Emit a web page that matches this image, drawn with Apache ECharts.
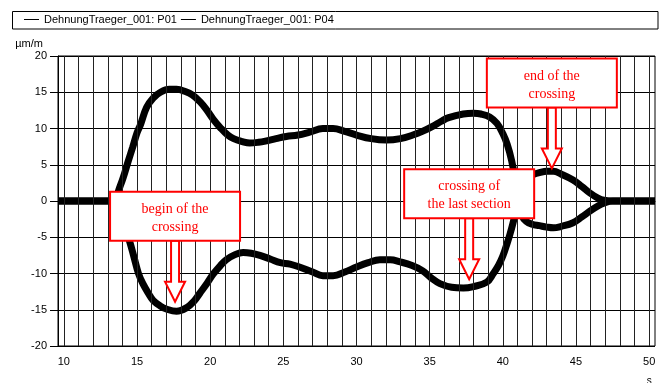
<!DOCTYPE html>
<html>
<head>
    <meta charset="utf-8">
    <title>DehnungTraeger_001</title>
    <style>
        body {
            margin: 0;
            padding: 0;
            background-color: #fff;
        }
        #chart {
            width: 672px;
            height: 383px;
        }
    </style>
</head>
<body>
    <div id="chart"></div>
    <script src="https://cdn.jsdelivr.net/npm/echarts@6/dist/echarts.min.js"></script>
    <script>
        // P01 - upper curve (s / µm/m)
        var timeP01 = [9.6, 11, 12, 13, 13.5, 13.75, 14.05, 14.4, 14.7, 15.0, 15.25, 15.65, 16.1, 16.6, 17.2, 17.7,
            18.3, 18.8, 19.3, 19.75, 20.2, 20.7, 21.2, 21.6, 22.2, 22.7, 23.3, 23.85, 24.5, 25.2, 26.0, 26.8,
            27.7, 28.4, 29.2, 30.0, 31.0, 32.05, 33.0, 33.85, 34.5, 35.2, 35.8, 36.3, 37.3, 38.0, 38.5, 39.1,
            39.6, 40.0, 40.3, 40.6, 40.85, 41.05, 41.3, 41.6, 42.0, 42.5, 43.0, 43.45, 44.0, 44.8, 45.4, 45.95,
            46.5, 46.9, 47.5, 48.5, 49.5, 50.4];
        var strainP01 = [0, 0, 0, 0, 0.1, 1.5, 3.2, 5.5, 7.4, 9.4, 10.6, 12.9, 14.2, 15.0, 15.4, 15.4,
            15.1, 14.6, 13.7, 12.6, 11.3, 10.1, 9.1, 8.6, 8.2, 8.0, 8.1, 8.3, 8.6, 8.9, 9.1, 9.5,
            10.0, 10.0, 9.6, 9.1, 8.6, 8.4, 8.6, 9.1, 9.6, 10.3, 11.0, 11.5, 12.0, 12.1, 12.0, 11.6,
            10.7, 9.3, 7.8, 5.6, 2.8, 0.2, -2.0, -2.8, -3.2, -3.4, -3.6, -3.7, -3.5, -3.0, -2.2, -1.4,
            -0.7, -0.3, 0, 0, 0, 0];

        // P04 - lower curve
        var timeP04 = [9.6, 11, 12, 13, 13.5, 13.75, 14.1, 14.5, 14.8, 15.1, 15.4, 15.8, 16.1, 16.6, 17.0, 17.7,
            18.4, 18.9, 19.3, 19.8, 20.2, 20.7, 21.1, 21.7, 22.25, 22.8, 23.4, 24.1, 24.8, 25.45, 26.1, 27.0,
            27.7, 28.4, 29.2, 30.0, 30.8, 31.6, 32.3, 33.0, 33.8, 34.5, 35.1, 35.7, 36.5, 37.3, 38.0, 38.9,
            39.35, 39.7, 40.0, 40.3, 40.5, 40.75, 40.95, 41.2, 41.6, 42.0, 42.5, 43.0, 43.45, 44.0, 44.8, 45.4,
            45.95, 46.5, 46.9, 47.5, 48.5, 49.5, 50.4];
        var strainP04 = [0, 0, 0, 0, -0.1, -1.2, -3.2, -5.6, -7.8, -10.0, -11.4, -12.8, -13.7, -14.5, -14.9, -15.2,
            -14.7, -13.8, -12.7, -11.3, -10.1, -8.9, -8.1, -7.4, -7.1, -7.2, -7.5, -8.0, -8.5, -8.7, -9.1, -9.8,
            -10.3, -10.3, -9.8, -9.1, -8.5, -8.1, -8.1, -8.4, -8.9, -9.6, -10.6, -11.4, -11.9, -12.0, -11.8, -11.2,
            -10.0, -8.9, -7.6, -5.8, -4.5, -2.6, -1.0, 1.1, 3.3, 3.6, 3.9, 4.1, 4.1, 3.7, 2.9, 2.0,
            1.1, 0.4, 0.1, 0, 0, 0, 0];

        var seriesNames = ['DehnungTraeger_001: P01', 'DehnungTraeger_001: P04'];
        var secondLabels = [10, 15, 20, 25, 30, 35, 40, 45, 50];
        var secondLines = [10, 11, 12, 13, 14, 15, 16, 17, 18, 19, 20, 21, 22, 23, 24, 25, 26, 27, 28, 29, 30,
            31, 32, 33, 34, 35, 36, 37, 38, 39, 40, 41, 42, 43, 44, 45, 46, 47, 48, 49, 50];

        // callouts: text and the point (s, µm/m) the arrow tip sits on
        var notes = [
            { text: 'begin of the\ncrossing', at: [17.6, -13.9] },
            { text: 'end of the\ncrossing', at: [43.35, 4.5] },
            { text: 'crossing of\nthe last section', at: [37.7, -10.8] }
        ];

        function zip(xs, ys) {
            var res = [];
            for (var i = 0; i < xs.length; i++) {
                res.push([xs[i], ys[i]]);
            }
            return res;
        }

        var chart = echarts.init(document.getElementById('chart'));
        var font = 'Liberation Sans, Arial, sans-serif';

        var curveStyle = {
            color: '#000',
            width: 7
        };

        var option = {
            animation: false,
            legend: {
                data: seriesNames,
                left: 24,
                top: 14,
                padding: 0,
                icon: 'rect',
                itemWidth: 15,
                itemHeight: 1,
                itemGap: 4,
                selectedMode: false,
                itemStyle: { color: '#000' },
                textStyle: { fontFamily: font, fontSize: 11, color: '#000' }
            },
            grid: {
                left: 58,
                right: 17,
                top: 56,
                bottom: 37,
                show: true,
                borderColor: '#000',
                borderWidth: 1
            },
            xAxis: {
                type: 'value',
                min: 9.6,
                max: 50.4,
                axisLine: { show: true, lineStyle: { color: '#000' } },
                axisTick: { show: true, length: 7, customValues: secondLabels, lineStyle: { color: '#000' } },
                axisLabel: {
                    customValues: secondLabels,
                    margin: 10,
                    color: '#000',
                    fontFamily: font,
                    fontSize: 11
                },
                splitLine: { show: false }
            },
            yAxis: {
                type: 'value',
                min: -20,
                max: 20,
                interval: 5,
                name: 'µm/m',
                nameLocation: 'end',
                nameGap: 7,
                nameTextStyle: {
                    fontFamily: font,
                    fontSize: 11,
                    color: '#000',
                    align: 'right',
                    padding: [0, 15, 0, 0]
                },
                axisLine: { show: true, lineStyle: { color: '#000' } },
                axisTick: { show: true, length: 8, lineStyle: { color: '#000' } },
                axisLabel: { margin: 11, color: '#000', fontFamily: font, fontSize: 11 },
                splitLine: { show: true, lineStyle: { color: '#000', width: 1 } }
            },
            series: [{
                name: 'seconds grid',
                type: 'line',
                data: [],
                z: 1,
                silent: true,
                markLine: {
                    silent: true,
                    symbol: ['none', 'none'],
                    label: { show: false },
                    lineStyle: { color: '#222', width: 1, type: 'solid' },
                    emphasis: { disabled: true },
                    data: secondLines.map(function (s) {
                        return { xAxis: s };
                    })
                }
            }, {
                name: seriesNames[0],
                type: 'line',
                z: 3,
                symbol: 'none',
                smooth: 0.4,
                lineStyle: curveStyle,
                itemStyle: { color: '#000' },
                data: zip(timeP01, strainP01)
            }, {
                name: seriesNames[1],
                type: 'line',
                z: 3,
                symbol: 'none',
                smooth: 0.4,
                lineStyle: curveStyle,
                itemStyle: { color: '#000' },
                data: zip(timeP04, strainP04)
            }]
        };

        chart.setOption(option);

        // legend frame, x unit, red callout boxes with hollow arrows
        var red = '#ff0000';
        var unitAt = chart.convertToPixel({ gridIndex: 0 }, [50, -20]);
        var graphics = [{
            type: 'rect',
            shape: { x: 12.5, y: 11.5, width: 645.5, height: 17.5 },
            style: { fill: 'none', stroke: '#000', lineWidth: 1 },
            z: 10
        }, {
            type: 'text',
            x: unitAt[0],
            y: unitAt[1] + 30,
            style: {
                text: 's',
                fill: '#000',
                font: '10px "Liberation Sans", Arial, sans-serif',
                align: 'center',
                verticalAlign: 'top'
            },
            z: 10
        }];

        notes.forEach(function (n) {
            var p = chart.convertToPixel({ gridIndex: 0 }, n.at);
            var boxW = 130, boxH = 49, arrowLen = 61;
            var bx = p[0] - boxW / 2;
            var bottom = p[1] - arrowLen;
            var by = bottom - boxH;
            var headY = p[1] - 20;
            graphics.push({
                type: 'polygon',
                shape: {
                    points: [
                        [p[0] - 4, bottom], [p[0] - 4, headY], [p[0] - 10, headY], [p[0], p[1]],
                        [p[0] + 10, headY], [p[0] + 4, headY], [p[0] + 4, bottom]
                    ]
                },
                style: { fill: '#fff', stroke: red, lineWidth: 2 },
                z: 20
            }, {
                type: 'rect',
                shape: { x: bx, y: by, width: boxW, height: boxH },
                style: { fill: '#fff', stroke: red, lineWidth: 2 },
                z: 21
            }, {
                type: 'text',
                x: p[0],
                y: by + boxH / 2 + 2,
                style: {
                    text: n.text,
                    fill: red,
                    font: '14px "Liberation Serif", "Times New Roman", serif',
                    lineHeight: 18,
                    align: 'center',
                    verticalAlign: 'middle'
                },
                z: 22
            });
        });

        chart.setOption({ graphic: graphics });
    </script>
</body>
</html>
